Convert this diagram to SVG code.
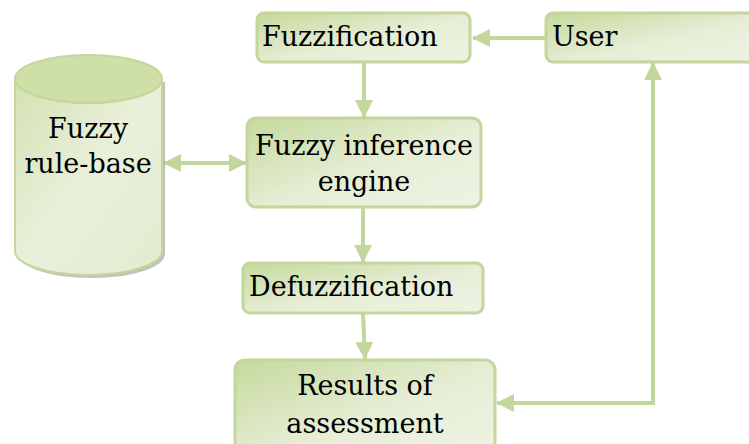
<svg xmlns="http://www.w3.org/2000/svg" width="749" height="444" viewBox="0 0 749 444">
<defs>
<linearGradient id="boxg" x1="0" y1="0" x2="1" y2="1">
<stop offset="0" stop-color="#c6d99c"/>
<stop offset="0.55" stop-color="#e6eed6"/>
<stop offset="1" stop-color="#eef3e3"/>
</linearGradient>
<linearGradient id="cylg" x1="0" y1="0" x2="1" y2="1">
<stop offset="0" stop-color="#d3e2b2"/>
<stop offset="0.5" stop-color="#e9f0db"/>
<stop offset="1" stop-color="#e2ebcf"/>
</linearGradient>
<marker id="ah" viewBox="0 0 18 18" refX="17" refY="9" markerWidth="18" markerHeight="18" markerUnits="userSpaceOnUse" orient="auto-start-reverse">
<path d="M0,0 L18,9 L0,18 Z" fill="#c3d69b"/>
</marker>
<style>
.box{fill:url(#boxg);stroke:#c3d69b;stroke-width:3}
.t{font-family:"DejaVu Serif","Liberation Serif",serif;font-size:27px;fill:#000}
.c{fill:none;stroke:#c3d69b;stroke-width:4}
</style>
</defs>
<g id="connectors">
<line class="c" x1="546" y1="38" x2="473" y2="38" marker-end="url(#ah)"/>
<line class="c" x1="364" y1="62" x2="364" y2="117" marker-end="url(#ah)"/>
<line class="c" x1="363" y1="207" x2="363" y2="262" marker-end="url(#ah)"/>
<line class="c" x1="363" y1="313" x2="365" y2="359" marker-end="url(#ah)"/>
<line class="c" x1="164" y1="163" x2="246" y2="163" marker-start="url(#ah)" marker-end="url(#ah)"/>
<polyline class="c" points="653,63 653,403 497,403" marker-start="url(#ah)" marker-end="url(#ah)"/>
</g>
<g id="rulebase">
<path d="M18,82 L18,254 A73.5,24 0 0 0 165,254 L165,82 Z" fill="#a8a8a0" opacity="0.7"/>
<path d="M15,79 L15,251 A73.5,24 0 0 0 162,251 L162,79 Z" fill="url(#cylg)" stroke="#c3d69b" stroke-width="2"/>
<ellipse cx="88.5" cy="79" rx="73.5" ry="24" fill="#cedfa8" stroke="#c3d69b" stroke-width="2"/>
<text class="t" x="88" y="138" text-anchor="middle">Fuzzy</text>
<text class="t" x="88" y="173" text-anchor="middle">rule-base</text>
</g>
<g id="fuzzification">
<rect class="box" x="257" y="13" width="213" height="49" rx="7"/>
<text class="t" x="262" y="46">Fuzzification</text>
</g>
<g id="user">
<rect class="box" x="546" y="13" width="220" height="49" rx="7"/>
<text class="t" x="552" y="46">User</text>
</g>
<g id="inference">
<rect class="box" x="247" y="118" width="234" height="89" rx="9"/>
<text class="t" x="364" y="155" text-anchor="middle">Fuzzy inference</text>
<text class="t" x="364" y="191" text-anchor="middle">engine</text>
</g>
<g id="defuzzification">
<rect class="box" x="243" y="263" width="240" height="50" rx="7"/>
<text class="t" x="249" y="296">Defuzzification</text>
</g>
<g id="results">
<rect class="box" x="235" y="360" width="260" height="100" rx="10"/>
<text class="t" x="365" y="395" text-anchor="middle">Results of</text>
<text class="t" x="365" y="433" text-anchor="middle">assessment</text>
</g>
</svg>
